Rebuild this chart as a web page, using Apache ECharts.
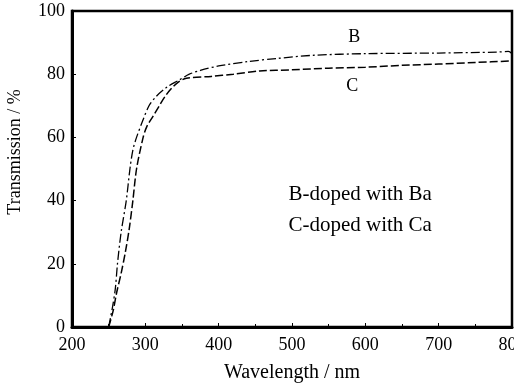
<!DOCTYPE html>
<html><head><meta charset="utf-8">
<script src="https://cdn.jsdelivr.net/npm/echarts@6/dist/echarts.min.js"></script>
<style>html,body{margin:0;padding:0;background:#fff}#c{width:514px;height:385px}</style>
</head><body><div id="c"></div>
<script>
const seriesBName = 'B';
const seriesB = [[250,0],[255,6],[259,12],[262,20],[267,30],[274,40],[279,50],[283,56],[288,60],[296,65],[305,70],[315,73],[330,76],[345,78],[360,80],[375,81.2],[400,82.6],[440,84],[480,85],[530,86],[600,86.5],[700,86.7],[780,87],[795,87.2],[800,86.5]];
const seriesCName = 'C';
const seriesC = [[250,0],[256,5],[261,11],[267,17],[273,24],[278,31],[283,40],[288,50],[297,60],[302,63.4],[310,66.5],[319,70],[327,73],[336,75.6],[345,77.5],[356,78.7],[390,79.3],[420,80],[456,81],[500,81.4],[550,81.9],[600,82.2],[650,82.8],[700,83.2],[750,83.7],[800,84.2]];
const xTicks = [200,300,400,500,600,700,800];
const yTicks = [0,20,40,60,80,100];
const curveLabels = [{name:'B', value:[585,91.8]},{name:'C', value:[582,76.3]}];
const notes = [{name:'B-doped with Ba', value:[593,41.8]},{name:'C-doped with Ca', value:[593,32]}];

const font = 'Liberation Serif';
const chart = echarts.init(document.getElementById('c'));
chart.setOption({
  animation:false,
  backgroundColor:'#fff',
  grid:{left:72,right:2,top:11,bottom:58,outerBoundsMode:'none',containLabel:false,show:true,borderColor:'#000',borderWidth:2.5,backgroundColor:'transparent'},
  xAxis:{type:'value',min:xTicks[0],max:xTicks[xTicks.length-1],interval:100,
    name:'Wavelength / nm',nameLocation:'middle',nameGap:36,
    nameTextStyle:{fontFamily:font,fontSize:20,color:'#000'},
    axisLine:{show:true,lineStyle:{color:'#000',width:3}},
    axisTick:{show:true,inside:true,length:4,lineStyle:{color:'#000',width:1}},
    minorTick:{show:true,splitNumber:2,length:3,lineStyle:{color:'#000',width:1}},
    splitLine:{show:false},
    axisLabel:{fontFamily:font,fontSize:18,color:'#000',margin:9}},
  yAxis:{type:'value',min:yTicks[0],max:yTicks[yTicks.length-1],interval:20,
    name:'Transmission / %',nameLocation:'middle',nameGap:48,nameRotate:90,
    nameTextStyle:{fontFamily:font,fontSize:18,color:'#000',padding:[0,0,0,34]},
    axisLine:{show:true,lineStyle:{color:'#000',width:3}},
    axisTick:{show:true,inside:true,length:4,lineStyle:{color:'#000',width:1}},
    splitLine:{show:false},
    axisLabel:{fontFamily:font,fontSize:18,color:'#000',margin:7}},
  series:[
    {name:seriesBName,type:'line',data:seriesB,showSymbol:false,smooth:0.3,
     lineStyle:{color:'#000',width:1.3,type:[9,3,2,3]}},
    {name:seriesCName,type:'line',data:seriesC,showSymbol:false,smooth:0.3,
     lineStyle:{color:'#000',width:1.5,type:[8,3]}},
    {type:'scatter',data:curveLabels,symbolSize:1,itemStyle:{color:'rgba(0,0,0,0)',opacity:1},silent:true,
     label:{show:true,position:'inside',formatter:'{b}',fontFamily:font,fontSize:18,color:'#000'}},
    {type:'scatter',data:notes,symbolSize:1,itemStyle:{color:'rgba(0,0,0,0)',opacity:1},silent:true,
     label:{show:true,position:'inside',formatter:'{b}',fontFamily:font,fontSize:21,color:'#000'}}
  ]
});
</script></body></html>
